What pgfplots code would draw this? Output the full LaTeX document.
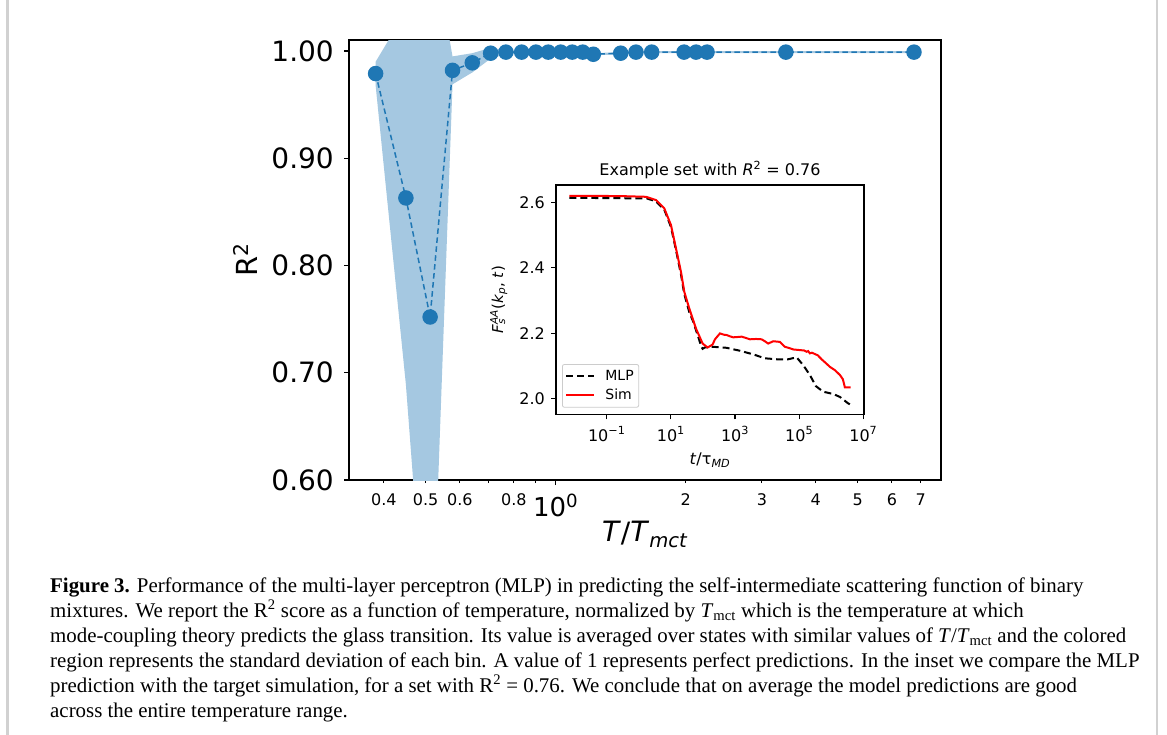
\documentclass[border=0pt]{standalone}
\usepackage{pgfplots}
\pgfplotsset{compat=1.18}
\usepackage{pgfplotstable}
\usepackage{fontspec}
\setmainfont{DejaVu Sans}
\newfontfamily\capfont{Liberation Serif}

\definecolor{tabblue}{HTML}{1F77B4}
\definecolor{band}{HTML}{A5C8E1}
\definecolor{legframe}{HTML}{CCCCCC}

\newcommand\fs[1]{\fontsize{#1bp}{#1bp}\selectfont}
\pgfplotsset{/pgf/number format/assume math mode=true}

% R^2 per temperature bin (mean)
\pgfplotstableread{
x     y
0.383 0.979
0.450 0.863
0.512 0.752
0.577 0.982
0.641 0.989
0.707 0.998
0.767 0.999
0.834 0.999
0.900 0.999
0.961 0.999
1.027 0.999
1.092 0.999
1.155 0.999
1.222 0.997
1.414 0.998
1.534 0.999
1.668 0.999
1.982 0.999
2.113 0.999
2.240 0.999
3.410 0.999
6.750 0.999
}\rscore

% std band outline: mean+std going right, mean-std coming back
\pgfplotstableread{
x     y
0.383 0.990
0.450 1.037
0.512 1.113
0.577 0.995
0.641 0.998
0.707 1.003
0.767 1.001
0.834 1.000
0.900 1.000
0.961 1.000
1.027 1.000
1.092 1.000
1.155 1.000
1.222 0.998
1.414 0.999
1.534 1.000
1.668 1.000
1.982 1.000
2.113 1.000
2.240 1.000
3.410 1.000
6.750 1.000
6.750 0.998
3.410 0.998
2.240 0.998
2.113 0.998
1.982 0.998
1.668 0.998
1.534 0.998
1.414 0.997
1.222 0.996
1.155 0.998
1.092 0.998
1.027 0.998
0.961 0.998
0.900 0.998
0.834 0.998
0.767 0.997
0.707 0.993
0.641 0.980
0.577 0.969
0.512 0.391
0.450 0.689
0.383 0.968
}\band

% inset: MLP prediction
\pgfplotstableread{
t        F
0.00684  2.614
1.78     2.612
3.44     2.603
6.22     2.578
10.07    2.525
14.4     2.455
20.65    2.380
26.2     2.320
37.5     2.265
50.1     2.235
70.8     2.190
89.1     2.160
97.7     2.153
115      2.157
209      2.159
547      2.156
1422     2.147
3690     2.136
8511     2.124
19770    2.121
45390    2.121
83180    2.127
133400   2.103
215300   2.073
331100   2.039
559800   2.022
1148000  2.015
1862000  2.006
3388000  1.986
3800000  1.984
}\mlp

% inset: simulation
\pgfplotstableread{
t        F
0.00684  2.620
0.0316   2.620
0.316    2.619
1.675    2.617
3.44     2.607
6.22     2.582
10.07    2.531
14.4     2.460
20.65    2.388
26.2     2.327
37.5     2.276
60.5     2.215
97.7     2.169
140      2.157
200      2.166
237      2.182
339      2.200
450      2.196
547      2.195
700      2.191
879      2.188
1200     2.189
1607     2.190
2200     2.186
2911     2.182
4500     2.183
6745     2.182
8500     2.176
10815    2.169
15490    2.176
20000    2.175
25120    2.174
35890    2.159
50000    2.155
65010    2.151
105200   2.149
140000   2.148
169800   2.144
190000   2.146
215300   2.139
250000   2.141
309000   2.137
380000   2.133
498900   2.121
700000   2.108
903600   2.098
1288000  2.088
1862000  2.073
2300000  2.060
2655000  2.035
3980000  2.035
}\simdata

\newcommand\capline[2]{\node[anchor=base west, inner sep=0pt] at (50bp,-#1bp) {\capfont\fs{20.9}#2};}

\begin{document}
\begin{tikzpicture}
\path[use as bounding box] (0bp,0bp) rectangle (1167bp,-735bp);
\draw[line width=2.5bp, black!18] (7.5bp,0bp) -- (7.5bp,-735bp);
\draw[line width=2.5bp, black!18] (1157bp,0bp) -- (1157bp,-735bp);

\begin{axis}[
  at={(349bp,-480bp)}, anchor=south west,
  width=592bp, height=440bp, scale only axis,
  xmode=log, xmin=0.3323, xmax=7.796,
  ymin=0.60, ymax=1.0103,
  axis line style={line width=1.1bp},
  tick style={black, line width=1.1bp},
  tick align=outside, tick pos=left,
  major tick length=5bp,
  xtick={1}, xticklabels={10\textsuperscript{0}},
  xticklabel style={font=\fs{26}, anchor=base, inner sep=0pt, yshift=-31bp},
  extra x ticks={0.4,0.5,0.6,0.7,0.8,0.9,2,3,4,5,6,7},
  extra x tick labels={0.4,0.5,0.6,,0.8,,2,3,4,5,6,7},
  extra x tick style={major tick length=3bp,
    xticklabel style={font=\fs{16}, yshift=9bp}},
  ytick={0.6,0.7,0.8,0.9,1.0},
  yticklabel style={font=\fs{28}, anchor=east, inner sep=0pt, xshift=-10bp,
    /pgf/number format/.cd, fixed, fixed zerofill, precision=2},
  xlabel={\textit{T}/\textit{T}\textsubscript{\textit{mct}}},
  xlabel style={font=\fs{28}, at={(axis description cs:0.5,-0.1409)}, anchor=base},
  ylabel={R\textsuperscript{2}},
  ylabel style={font=\fs{29}, at={(axis description cs:-0.1554,0.5)}, anchor=base},
]
\addplot[fill=band, draw=none] table[x=x, y=y]{\band} -- cycle;
\addplot[tabblue, line width=1.5bp, dash pattern=on 5.5bp off 3.5bp,
  mark=*, mark size=7bp, mark options={solid, fill=tabblue, draw=none}]
  table[x=x, y=y]{\rscore};
\end{axis}

\begin{axis}[
  at={(556bp,-414.3bp)}, anchor=south west,
  width=308bp, height=229.3bp, scale only axis,
  axis background/.style={fill=white},
  xmode=log, xmin=2.63e-3, xmax=1.047e7,
  ymin=1.953, ymax=2.653,
  axis line style={line width=1.1bp},
  tick style={black, line width=1.1bp},
  tick align=outside, tick pos=left,
  major tick length=5bp,
  xtick={1e-1,1e1,1e3,1e5,1e7},
  xticklabels={10\textsuperscript{−1},10\textsuperscript{1},10\textsuperscript{3},10\textsuperscript{5},10\textsuperscript{7}},
  xticklabel style={font=\fs{16}, anchor=base, inner sep=0pt, yshift=-21.7bp},
  ytick={2.0,2.2,2.4,2.6},
  yticklabel style={font=\fs{16}, anchor=east, inner sep=0pt, xshift=-6bp,
    /pgf/number format/.cd, fixed, fixed zerofill, precision=1},
  title={Example set with \textit{R}\textsuperscript{2} = 0.76},
  every axis title shift=0pt,
  title style={font=\fs{16}, at={(axis description cs:0.5,1.0393)}, anchor=base},
  xlabel={\textit{t}/τ\textsubscript{\textit{MD}}},
  xlabel style={font=\fs{16}, at={(axis description cs:0.5,-0.221)}, anchor=base},
  ylabel={\textit{F}\makebox[0pt][l]{\textsubscript{\textit{s}}}\textsuperscript{\textit{AA}}(\textit{k}\textsubscript{\textit{p}}, \textit{t})},
  ylabel style={font=\fs{15}, at={(axis description cs:-0.172,0.5)}, anchor=base},
  legend cell align=left,
  legend image code/.code={\draw[#1] (0bp,0bp) -- (28bp,0bp);},
  legend style={at={(0.0195,0.029)}, anchor=south west, draw=legframe,
    line width=0.8bp, rounded corners=2bp, fill=white, font=\fs{14},
    inner xsep=3bp, inner ysep=4bp, row sep=3bp,
    /tikz/every odd column/.append style={column sep=8bp}},
]
\addplot[black, line width=2bp, dash pattern=on 7bp off 4bp] table[x=t, y=F]{\mlp};
\addlegendentry{MLP}
\addplot[red, line width=2bp] table[x=t, y=F]{\simdata};
\addlegendentry{Sim}
\end{axis}

\capline{592}{\textbf{Figure 3.} Performance of the multi-layer perceptron (MLP) in predicting the self-intermediate scattering function of binary}
\capline{617.1}{mixtures. We report the R\textsuperscript{2} score as a function of temperature, normalized by \textit{T}\textsubscript{mct} which is the temperature at which}
\capline{642.2}{mode-coupling theory predicts the glass transition. Its value is averaged over states with similar values of \textit{T}/\textit{T}\textsubscript{mct} and the colored}
\capline{667.3}{region represents the standard deviation of each bin. A value of 1 represents perfect predictions. In the inset we compare the MLP}
\capline{692.4}{prediction with the target simulation, for a set with R\textsuperscript{2} = 0.76. We conclude that on average the model predictions are good}
\capline{717.5}{across the entire temperature range.}
\end{tikzpicture}
\end{document}
